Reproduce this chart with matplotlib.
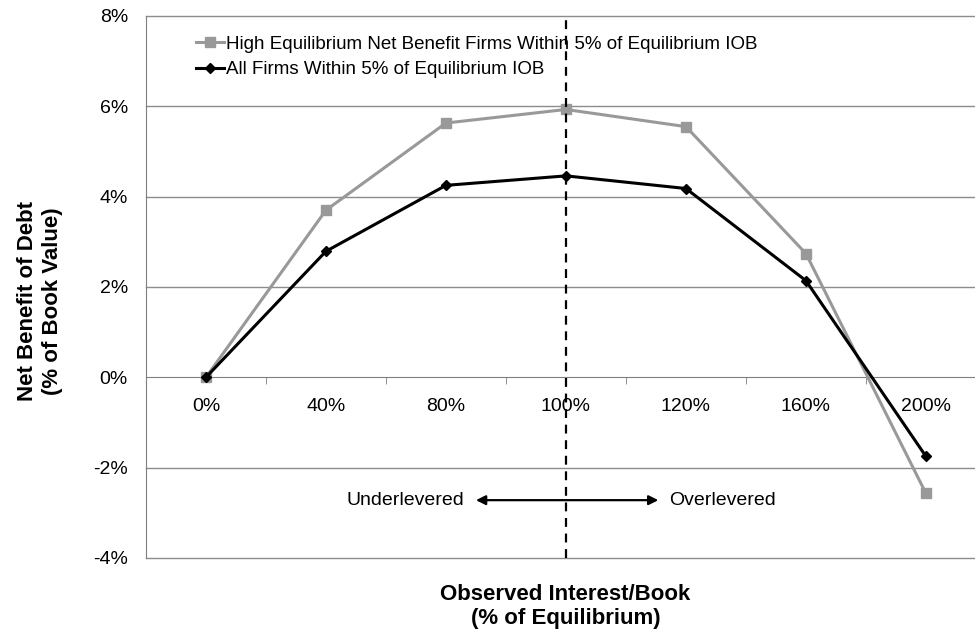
import numpy as np
import matplotlib.pyplot as plt

plt.rcParams['font.family'] = ['Liberation Sans', 'DejaVu Sans']

categories = ['0%', '40%', '80%', '100%', '120%', '160%', '200%']
high_equilibrium = [0.0, 3.70, 5.63, 5.93, 5.55, 2.74, -2.57]
all_firms = [0.0, 2.79, 4.25, 4.46, 4.18, 2.14, -1.75]
y_ticks = [-4, -2, 0, 2, 4, 6, 8]

x = np.arange(len(categories))

fig = plt.figure(figsize=(9.75, 6.34), dpi=100)
ax = fig.add_axes([0.1497, 0.1199, 0.8615, 0.8549])

ax.set_xlim(-0.5, len(categories) - 0.5)
ax.set_ylim(-4, 8)

# gridlines
for v in y_ticks:
    if v != 0:
        ax.axhline(v, color='#8c8c8c', lw=1.0, zorder=0, clip_on=False)

ax.plot(x, high_equilibrium, color='#999999', lw=2.2, marker='s', ms=7.5,
        label='High Equilibrium Net Benefit Firms Within 5% of Equilibrium IOB', zorder=3)
ax.plot(x, all_firms, color='black', lw=2.2, marker='D', ms=5.5,
        label='All Firms Within 5% of Equilibrium IOB', zorder=4)

# equilibrium line
ax.axvline(3, color='black', lw=1.6, ls=(0, (4, 3)), zorder=5)

# x axis sits at zero
ax.spines['bottom'].set_position(('data', 0))
ax.spines['bottom'].set_color('#7f7f7f')
ax.spines['left'].set_color('#7f7f7f')
ax.spines['top'].set_visible(False)
ax.spines['right'].set_visible(False)

ax.set_xticks(x)
ax.set_xticklabels(categories, fontsize=14)
ax.set_xticks(np.arange(-0.5, len(categories), 1.0), minor=True)
ax.tick_params(axis='x', which='major', length=0, pad=15)
ax.tick_params(axis='x', which='minor', length=5, color='#7f7f7f', direction='out')

ax.set_yticks(y_ticks)
ax.set_yticklabels([f'{v}%' for v in y_ticks], fontsize=14)
ax.tick_params(axis='y', length=0, pad=13)

# leverage arrow
ax.annotate('', xy=(2.25, -2.72), xytext=(3.77, -2.72),
            arrowprops=dict(arrowstyle='<|-|>', color='black', lw=1.6,
                            mutation_scale=14, shrinkA=0, shrinkB=0), zorder=6)
ax.text(2.15, -2.72, 'Underlevered', ha='right', va='center', fontsize=14)
ax.text(3.86, -2.72, 'Overlevered', ha='left', va='center', fontsize=14)

ax.legend(loc='upper left', bbox_to_anchor=(0.04, 0.995), frameon=False,
          fontsize=13.5, handlelength=1.45, handletextpad=0.15, labelspacing=0.45)

fig.text(0.58, 0.044, 'Observed Interest/Book\n(% of Equilibrium)', ha='center',
         va='center', fontsize=16, fontweight='bold', linespacing=1.2)
fig.text(0.041, 0.525, 'Net Benefit of Debt\n(% of Book Value)', ha='center',
         va='center', rotation=90, fontsize=16, fontweight='bold', linespacing=1.2)

fig.savefig('out.png', dpi=100)
